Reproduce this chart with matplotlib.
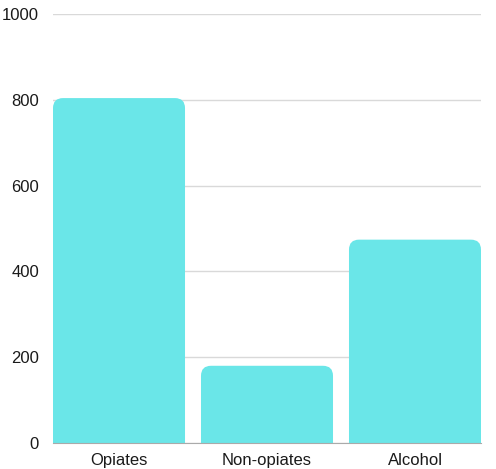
import matplotlib
matplotlib.use("Agg")
import matplotlib.pyplot as plt
from matplotlib.patches import FancyBboxPatch

plt.rcParams['font.family'] = ['Liberation Sans', 'DejaVu Sans']

categories = ['Opiates', 'Non-opiates', 'Alcohol']
values = [804, 180, 474]
yticks = [0, 200, 400, 600, 800, 1000]

bar_color = '#6ae6e8'

fig = plt.figure(figsize=(4.96, 4.69), dpi=100)
ax = fig.add_axes([53 / 496, 1 - 443 / 469, 428 / 496, 429 / 469])

x = list(range(len(categories)))
width = 0.892
ax.set_xlim(-width / 2, len(categories) - 1 + width / 2)
ax.set_ylim(0, 1000)

# px per data unit
px_x = 428 / (len(categories) - 1 + width)
px_y = 429 / 1000
r_px = 10
for xi, v in zip(x, values):
    p = FancyBboxPatch((xi - width / 2, -60), width, v + 60,
                       boxstyle=f"round,pad=0,rounding_size={r_px / px_x}",
                       mutation_aspect=px_x / px_y,
                       facecolor=bar_color, edgecolor='none', zorder=3)
    ax.add_patch(p)

ax.set_yticks(yticks)
ax.set_xticks(x)
ax.set_xticklabels(categories)
ax.yaxis.grid(True, color='#d9d9d9', linewidth=1)
ax.set_axisbelow(True)
for s in ['top', 'right', 'left']:
    ax.spines[s].set_visible(False)
ax.spines['bottom'].set_color('#aaaaaa')
ax.spines['bottom'].set_zorder(4)
ax.tick_params(axis='y', length=0, pad=10, labelsize=12, colors='#1a1a1a')
ax.tick_params(axis='x', length=0, pad=7, labelsize=12, colors='#1a1a1a')

fig.savefig('out.png', dpi=100)
